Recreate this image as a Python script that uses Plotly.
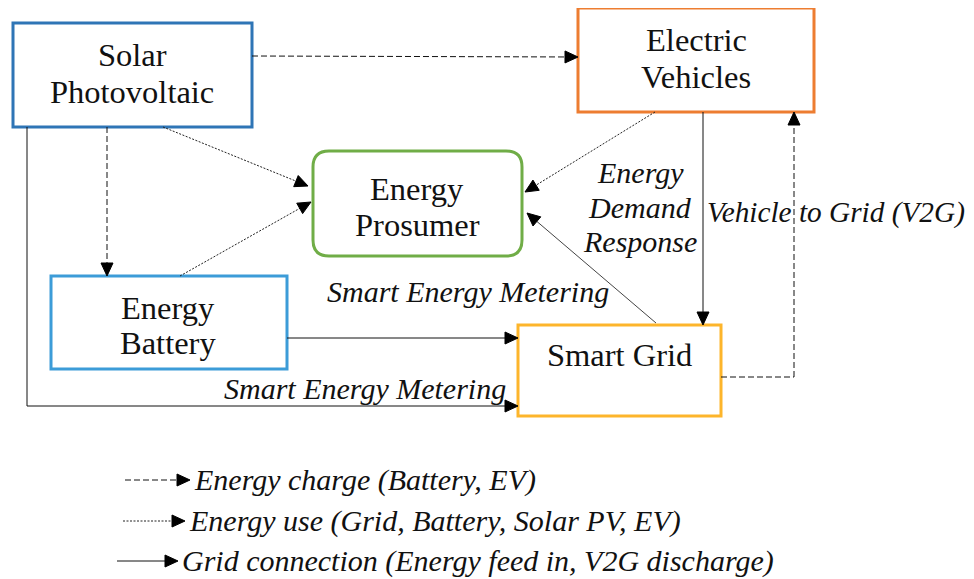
import plotly.graph_objects as go
import math

W, H = 974, 579
OFF = 8  # default page body margin

# Nodes (boxes): box extents in pixel space, border colour
node_names = ["solar", "ev", "prosumer", "battery", "grid"]
node_x0 = [13, 578, 313, 51, 518]
node_x1 = [252, 814, 522, 287, 721]
node_y0 = [23, 8, 151, 276, 325]
node_y1 = [127, 112, 256, 369, 416]
node_colors = ["#2E75B6", "#ED7D31", "#70AD47", "#3C9CD8", "#FDB52B"]
node_rounded = [False, False, True, False, False]

# Box labels (one entry per line)
label_text = ["Solar", "Photovoltaic", "Electric", "Vehicles", "Energy", "Prosumer",
              "Energy", "Battery", "Smart Grid"]
label_x = [132, 132, 696, 696, 417, 417, 168, 168, 619]
label_y = [55, 92, 40, 77, 189, 225, 308, 343, 355]

# Italic edge labels
edge_label_text = ["Energy", "Demand", "Response", "Vehicle to Grid (V2G)",
                   "Smart Energy Metering", "Smart Energy Metering"]
edge_label_x = [640, 640, 640, 705, 325, 222]
edge_label_y = [172, 207, 241, 212, 291, 388]
edge_label_anchor = ["center", "center", "center", "left", "left", "left"]
edge_label_size = [30, 30, 30, 29.3, 30, 30]

# Connectors: polylines (x list, y list), style
conn_x = [[252, 578], [107, 107], [163, 308], [180, 311], [27, 27, 518],
          [287, 518], [655, 525], [656, 527], [703, 703], [721, 794, 794]]
conn_y = [[56, 57], [127, 276], [127, 186], [276, 202], [127, 406, 406],
          [338, 338], [112, 192], [323, 213], [112, 325], [377, 377, 112]]
conn_style = ["dash", "dash", "dot", "dot", "solid", "solid", "dot", "thin", "solid", "dash"]

# Legend
legend_text = ["Energy charge (Battery, EV)",
               "Energy use (Grid, Battery, Solar PV, EV)",
               "Grid connection (Energy feed in, V2G discharge)"]
legend_style = ["dash", "dot", "solid"]
legend_x0 = [125, 123, 117]
legend_x1 = [190, 185, 178]
legend_y = [480, 521, 561]

DASH = {"dash": "6px,3px", "dot": "2px,1.5px", "solid": "solid", "thin": "solid"}
LCOL = {"dash": "#111", "dot": "#222", "solid": "#111", "thin": "#444"}

SERIF = "Liberation Serif, Times New Roman, serif"

fig = go.Figure()
shapes = []
annotations = []


def rounded_rect(x0, y0, x1, y1, r):
    return (f"M {x0+r},{y0} L {x1-r},{y0} Q {x1},{y0} {x1},{y0+r} "
            f"L {x1},{y1-r} Q {x1},{y1} {x1-r},{y1} L {x0+r},{y1} "
            f"Q {x0},{y1} {x0},{y1-r} L {x0},{y0+r} Q {x0},{y0} {x0+r},{y0} Z")


for i in range(len(node_names)):
    if node_rounded[i]:
        shapes.append(dict(type="path", xref="x", yref="y",
                           path=rounded_rect(node_x0[i], node_y0[i], node_x1[i], node_y1[i], 16),
                           line=dict(color=node_colors[i], width=3), fillcolor="white"))
    else:
        shapes.append(dict(type="rect", xref="x", yref="y",
                           x0=node_x0[i], x1=node_x1[i], y0=node_y0[i], y1=node_y1[i],
                           line=dict(color=node_colors[i], width=3), fillcolor="white"))


def arrow_head(xa, ya, xb, yb, length=13, half=6, color="#000"):
    dx, dy = xb - xa, yb - ya
    d = math.hypot(dx, dy)
    ux, uy = dx / d, dy / d
    bx, by = xb - ux * length, yb - uy * length
    px, py = -uy * half, ux * half
    path = f"M {xb},{yb} L {bx+px},{by+py} L {bx-px},{by-py} Z"
    return dict(type="path", xref="x", yref="y", path=path,
                fillcolor=color, line=dict(color=color, width=1))


def draw_conn(xs, ys, style):
    n = len(xs)
    for k in range(n - 1):
        xa, ya, xb, yb = xs[k], ys[k], xs[k + 1], ys[k + 1]
        if k == n - 2:
            d = math.hypot(xb - xa, yb - ya)
            xb = xb - (xb - xa) / d * 8
            yb = yb - (yb - ya) / d * 8
        shapes.append(dict(type="line", xref="x", yref="y", x0=xa, y0=ya, x1=xb, y1=yb,
                           line=dict(color=LCOL[style], width=1, dash=DASH[style])))
    shapes.append(arrow_head(xs[-2], ys[-2], xs[-1], ys[-1]))


for xs, ys, st in zip(conn_x, conn_y, conn_style):
    draw_conn(xs, ys, st)

for t, x, y in zip(label_text, label_x, label_y):
    annotations.append(dict(x=x, y=y, xref="x", yref="y", text=t, showarrow=False,
                            xanchor="center", yanchor="middle",
                            font=dict(family=SERIF, size=32.5, color="#111")))

for t, x, y, a, s in zip(edge_label_text, edge_label_x, edge_label_y, edge_label_anchor,
                         edge_label_size):
    annotations.append(dict(x=x, y=y, xref="x", yref="y", text=f"<i>{t}</i>", showarrow=False,
                            xanchor=a, yanchor="middle",
                            font=dict(family=SERIF, size=s, color="#111")))

for t, st, x0, x1, y in zip(legend_text, legend_style, legend_x0, legend_x1, legend_y):
    draw_conn([x0, x1], [y, y], st)
    annotations.append(dict(x=x1 + 2, y=y, xref="x", yref="y", text=f"<i>{t}</i>", showarrow=False,
                            xanchor="left", yanchor="middle",
                            font=dict(family=SERIF, size=30, color="#111")))

fig.update_layout(
    width=W - OFF, height=H - OFF, autosize=False,
    margin=dict(l=0, r=0, t=0, b=0),
    paper_bgcolor="white", plot_bgcolor="white",
    font=dict(family=SERIF),
    xaxis=dict(range=[OFF, W], visible=False, fixedrange=True),
    yaxis=dict(range=[H, OFF], visible=False, fixedrange=True),
    shapes=shapes, annotations=annotations, showlegend=False,
)

fig.write_html("out.html")
